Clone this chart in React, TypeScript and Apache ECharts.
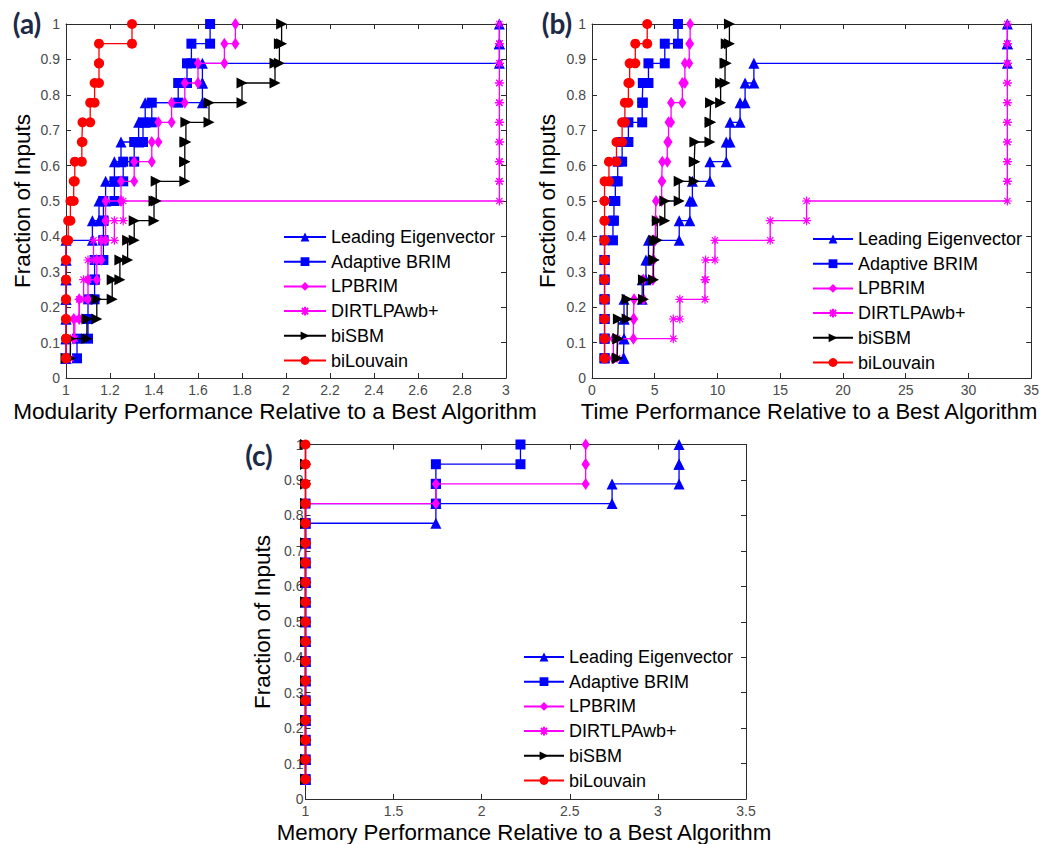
import React, { useEffect, useRef } from "react";
import * as echarts from "echarts";

// ---------------- data ----------------
const SERIES_NAMES = ["Leading Eigenvector", "Adaptive BRIM", "LPBRIM", "DIRTLPAwb+", "biSBM", "biLouvain"];

// fraction of inputs reached at the k-th of 18 inputs
const fractionLevels = [
  0.0556, 0.1111, 0.1667, 0.2222, 0.2778, 0.3333, 0.3889, 0.4444, 0.5,
  0.5556, 0.6111, 0.6667, 0.7222, 0.7778, 0.8333, 0.8889, 0.9444, 1.0,
];

// (a) modularity performance ratios, sorted
const modLE = [1, 1, 1, 1, 1, 1, 1, 1.12, 1.15, 1.18, 1.22, 1.25, 1.33, 1.36, 1.62, 1.62, 2.97, 2.97];
const modAB = [1, 1.05, 1.1, 1.1, 1.13, 1.13, 1.17, 1.17, 1.17, 1.22, 1.26, 1.31, 1.35, 1.39, 1.51, 1.55, 1.57, 1.655];
const modLP = [1, 1, 1.035, 1.06, 1.1, 1.14, 1.16, 1.18, 1.18, 1.25, 1.31, 1.39, 1.42, 1.48, 1.54, 1.6, 1.72, 1.77];
const modDL = [1, 1.02, 1.04, 1.06, 1.08, 1.1, 1.125, 1.22, 1.26, 2.97, 2.97, 2.97, 2.97, 2.97, 2.97, 2.97, 2.97, 2.97];
const modSBM = [1, 1.02, 1.095, 1.14, 1.21, 1.245, 1.28, 1.31, 1.4, 1.41, 1.54, 1.54, 1.545, 1.65, 1.8, 1.95, 1.97, 1.98];
const modLouvain = [1, 1, 1, 1, 1, 1, 1, 1.01, 1.02, 1.035, 1.04, 1.072, 1.075, 1.11, 1.13, 1.15, 1.15, 1.3];

// (b) time performance ratios, sorted
const timeLE = [2.5, 2.55, 2.55, 2.55, 4.0, 4.3, 4.5, 6.95, 7.8, 8.0, 9.4, 10.7, 11.0, 11.8, 12.2, 12.9, 33.1, 33.1];
const timeAB = [1, 1, 1, 1, 1, 1, 1, 1.67, 1.75, 1.86, 2.05, 2.4, 2.9, 4.0, 4.05, 4.5, 5.8, 6.85];
const timeLP = [1.7, 1.7, 3.3, 3.35, 4.1, 4.85, 4.9, 5.05, 5.1, 5.55, 5.6, 6.0, 6.1, 6.3, 7.2, 7.4, 7.75, 7.82];
const timeDL = [1.8, 2.0, 6.48, 7.0, 9.0, 9.05, 9.8, 14.2, 17.1, 33.1, 33.1, 33.1, 33.1, 33.1, 33.1, 33.1, 33.1, 33.1];
const timeSBM = [2.0, 2.05, 2.1, 2.8, 4.1, 4.9, 4.95, 5.2, 5.8, 6.95, 8.15, 8.2, 9.4, 9.45, 10.25, 10.6, 10.7, 10.95];
const timeLouvain = [1, 1, 1, 1, 1, 1, 1, 1, 1, 1, 1.35, 1.95, 2.4, 2.62, 2.9, 3.0, 3.45, 4.4];

// (c) memory performance ratios, sorted
const memLE = [1, 1, 1, 1, 1, 1, 1, 1, 1, 1, 1, 1, 1, 1, 1.74, 2.74, 3.12, 3.12];
const memAB = [1, 1, 1, 1, 1, 1, 1, 1, 1, 1, 1, 1, 1, 1, 1, 1.74, 1.74, 2.22];
const memLP = [1, 1, 1, 1, 1, 1, 1, 1, 1, 1, 1, 1, 1, 1, 1, 1.74, 2.59, 2.59];
const memDL = [1, 1, 1, 1, 1, 1, 1, 1, 1, 1, 1, 1, 1, 1, 1, 1, 1, 1];
const memSBM = [1, 1, 1, 1, 1, 1, 1, 1, 1, 1, 1, 1, 1, 1, 1, 1, 1, 1];
const memLouvain = [1, 1, 1, 1, 1, 1, 1, 1, 1, 1, 1, 1, 1, 1, 1, 1, 1, 1];

// tick labels
const modTicks = ["1", "1.2", "1.4", "1.6", "1.8", "2", "2.2", "2.4", "2.6", "2.8", "3"];
const timeTicks = ["0", "5", "10", "15", "20", "25", "30", "35"];
const memTicks = ["1", "1.5", "2", "2.5", "3", "3.5"];
const fracTicks = ["0", "0.1", "0.2", "0.3", "0.4", "0.5", "0.6", "0.7", "0.8", "0.9", "1"];

const Y_TITLE = "Fraction of Inputs";
const X_TITLES = [
  "Modularity Performance Relative to a Best Algorithm",
  "Time Performance Relative to a Best Algorithm",
  "Memory Performance Relative to a Best Algorithm",
];
const PANEL_LABELS = ["(a)", "(b)", "(c)"];

// ---------------- styles / layout ----------------
const ASTERISK = "path://M0 5L10 5M5 0L5 10M1.5 1.5L8.5 8.5M1.5 8.5L8.5 1.5";
const STYLES = [
  { color: "#0000ff", symbol: "triangle", size: 11, rotate: 0, stroke: 0 },
  { color: "#0000ff", symbol: "rect", size: 10, rotate: 0, stroke: 0 },
  { color: "#ff00ff", symbol: "diamond", size: [8, 12], rotate: 0, stroke: 0 },
  { color: "#ff00ff", symbol: ASTERISK, size: 9, rotate: 0, stroke: 1.2 },
  { color: "#000000", symbol: "triangle", size: 11, rotate: -90, stroke: 0 },
  { color: "#ff0000", symbol: "circle", size: 10, rotate: 0, stroke: 0 },
];

const PANELS = [
  {
    grid: { left: 66, top: 24, width: 440, height: 354 },
    min: 1, max: 3, interval: 0.2, ticks: modTicks,
    series: [modLE, modAB, modLP, modDL, modSBM, modLouvain],
    legend: { left: 283, top: 228, itemWidth: 42 },
    yLabelMargin: 6,
    yTitle: { x: 22, y: 201 },
    xTitle: { x: 275, y: 411, size: 22.6 },
    label: { x: 27, y: 23 },
  },
  {
    grid: { left: 592, top: 24, width: 441, height: 354 },
    min: 0, max: 35, interval: 5, ticks: timeTicks,
    series: [timeLE, timeAB, timeLP, timeDL, timeSBM, timeLouvain],
    legend: { left: 812, top: 230, itemWidth: 40 },
    yLabelMargin: 6,
    yTitle: { x: 547, y: 201 },
    xTitle: { x: 809, y: 411, size: 22 },
    label: { x: 557, y: 23 },
  },
  {
    grid: { left: 305.5, top: 444.5, width: 440.5, height: 354.5 },
    min: 1, max: 3.5, interval: 0.5, ticks: memTicks,
    series: [memLE, memAB, memLP, memDL, memSBM, memLouvain],
    legend: { left: 523, top: 648, itemWidth: 40 },
    yLabelMargin: 2,
    yTitle: { x: 262, y: 622 },
    xTitle: { x: 524, y: 832, size: 22.3 },
    label: { x: 259, y: 455 },
  },
];

const AXIS_COLOR = "#2b2b2b";
const LABEL_COLOR = "#4a4a4a";
const FONT = "'Liberation Sans', Arial, sans-serif";

function stairs(r: number[]): number[][] {
  const pts: number[][] = [[r[0], fractionLevels[0]]];
  for (let i = 1; i < r.length; i++) {
    pts.push([r[i], fractionLevels[i - 1]]);
    pts.push([r[i], fractionLevels[i]]);
  }
  return pts;
}

function buildOption() {
  const xAxis: any[] = [];
  const yAxis: any[] = [];
  const series: any[] = [];
  const legend: any[] = [];
  const graphic: any[] = [];

  const baseLine = { show: true, onZero: false, lineStyle: { color: AXIS_COLOR, width: 1 } };
  const baseTick = { show: true, inside: true, length: 5, lineStyle: { color: AXIS_COLOR, width: 1 } };

  PANELS.forEach((p, pi) => {
    const xFmt = (v: number) => p.ticks[Math.round((v - p.min) / p.interval)] ?? "";
    const yFmt = (v: number) => fracTicks[Math.round(v / 0.1)] ?? "";
    xAxis.push({
      type: "value", gridIndex: pi, position: "bottom", min: p.min, max: p.max, interval: p.interval,
      axisLine: baseLine, axisTick: baseTick, splitLine: { show: false },
      axisLabel: { color: LABEL_COLOR, fontSize: 14, fontFamily: FONT, margin: 5, formatter: xFmt },
    });
    yAxis.push({
      type: "value", gridIndex: pi, position: "left", min: 0, max: 1, interval: 0.1,
      axisLine: baseLine, axisTick: baseTick, splitLine: { show: false },
      axisLabel: { color: LABEL_COLOR, fontSize: 14, fontFamily: FONT, margin: p.yLabelMargin, formatter: yFmt },
    });
  });
  // mirrored axes for the box with inward ticks
  PANELS.forEach((p, pi) => {
    xAxis.push({
      type: "value", gridIndex: pi, position: "top", min: p.min, max: p.max, interval: p.interval,
      axisLine: baseLine, axisTick: baseTick, splitLine: { show: false }, axisLabel: { show: false },
    });
    yAxis.push({
      type: "value", gridIndex: pi, position: "right", min: 0, max: 1, interval: 0.1,
      axisLine: baseLine, axisTick: baseTick, splitLine: { show: false }, axisLabel: { show: false },
    });
  });

  PANELS.forEach((p, pi) => {
    p.series.forEach((r, si) => {
      const st = STYLES[si];
      series.push({
        type: "line",
        name: SERIES_NAMES[si],
        xAxisIndex: pi,
        yAxisIndex: pi,
        data: stairs(r),
        symbol: st.symbol,
        symbolSize: st.size,
        symbolRotate: st.rotate,
        showSymbol: true,
        clip: false,
        silent: true,
        lineStyle: { color: st.color, width: 1.3 },
        itemStyle: {
          color: st.color,
          borderColor: st.color,
          borderWidth: st.stroke,
        },
        emphasis: { disabled: true },
        z: 2 + si,
      });
    });

    legend.push({
      show: true,
      orient: "vertical",
      left: p.legend.left,
      top: p.legend.top,
      padding: 0,
      itemWidth: p.legend.itemWidth,
      itemHeight: 11,
      itemGap: 6.7,
      selectedMode: false,
      data: SERIES_NAMES,
      textStyle: { fontSize: 18, lineHeight: 18, fontFamily: FONT, color: "#000" },
    });

    graphic.push({
      type: "text",
      x: p.yTitle.x,
      y: p.yTitle.y,
      rotation: Math.PI / 2,
      style: {
        text: Y_TITLE, fontSize: 22.5, fontFamily: FONT, fill: "#000",
        align: "center", verticalAlign: "middle",
      },
    });
    graphic.push({
      type: "text",
      x: p.xTitle.x,
      y: p.xTitle.y,
      style: {
        text: X_TITLES[pi], fontSize: p.xTitle.size, fontFamily: FONT, fill: "#000",
        align: "center", verticalAlign: "middle",
      },
    });
    graphic.push({
      type: "text",
      x: p.label.x,
      y: p.label.y,
      style: {
        text: PANEL_LABELS[pi], fontSize: 28, fontWeight: "bold", fontFamily: "Lato, 'Open Sans', sans-serif",
        fill: "#1c2a47", align: "center", verticalAlign: "middle",
      },
    });
  });

  return {
    animation: false,
    backgroundColor: "#ffffff",
    grid: PANELS.map((p) => ({ ...p.grid, containLabel: false, show: false })),
    xAxis,
    yAxis,
    legend,
    series,
    graphic,
  };
}

export default function App() {
  const ref = useRef<HTMLDivElement>(null);
  useEffect(() => {
    if (!ref.current) return;
    const chart = echarts.init(ref.current, undefined, { renderer: "svg" });
    chart.setOption(buildOption() as any);
    return () => chart.dispose();
  }, []);
  return (
    <div
      ref={ref}
      style={{ position: "absolute", left: 0, top: 0, width: 1042, height: 844, background: "#fff" }}
    />
  );
}
